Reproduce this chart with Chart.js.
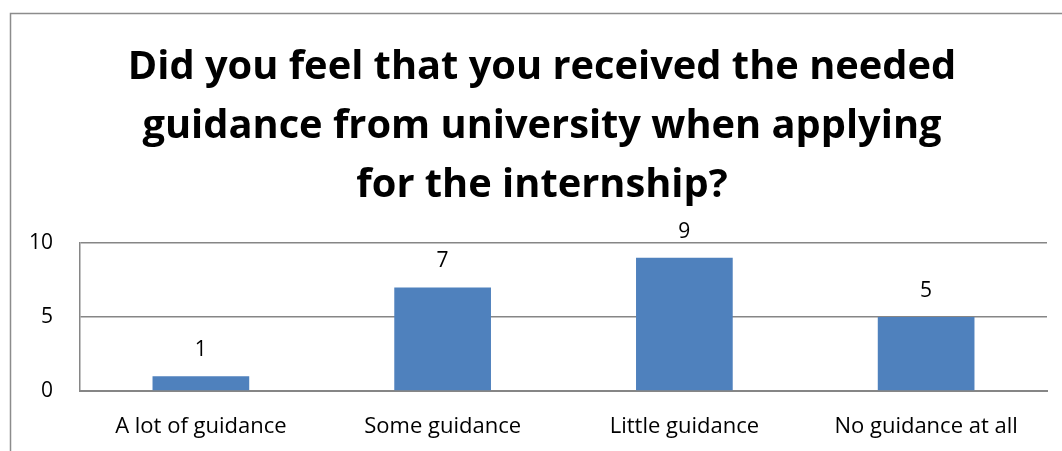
<!DOCTYPE html>
<html>
<head>
<meta charset="utf-8">
<script src="https://cdn.jsdelivr.net/npm/chart.js@4"></script>
<style>
  html, body { margin: 0; padding: 0; background: #ffffff; }
  #wrap { width: 1062px; height: 451px; position: relative; }
</style>
</head>
<body>
<div id="wrap"><canvas id="chart" width="1062" height="451"></canvas></div>
<script>
// Survey bar chart: guidance from university when applying for internship

const categories = ['A lot of guidance', 'Some guidance', 'Little guidance', 'No guidance at all'];
const responses = [1, 7, 9, 5];
const yTicks = [0, 5, 10];
const titleLines = [
    'Did you feel that you received the needed',
    'guidance from university when applying',
    'for the internship?'
];

const FONT = '"Open Sans", "Noto Sans", Arial, sans-serif';

// Plugin: outer frame, three-line bold title, value labels above bars.
const decorPlugin = {
    id: 'decor',
    beforeDraw(chart) {
        const { ctx } = chart;
        ctx.save();
        ctx.fillStyle = '#ffffff';
        ctx.fillRect(0, 0, chart.width, chart.height);
        ctx.strokeStyle = '#8c8c8c';
        ctx.lineWidth = 1.5;
        ctx.strokeRect(10.5, 13.5, chart.width + 20, chart.height + 20);
        ctx.restore();
    },
    afterDatasetsDraw(chart) {
        const { ctx } = chart;

        // title, sized so the first line spans about 829px
        ctx.save();
        ctx.fillStyle = '#000000';
        ctx.textAlign = 'center';
        ctx.textBaseline = 'alphabetic';
        ctx.font = 'bold 40px ' + FONT;
        const w = ctx.measureText(titleLines[0]).width;
        const size = Math.round(40 * 829 / w * 10) / 10;
        ctx.font = 'bold ' + size + 'px ' + FONT;
        const baselines = [79, 138, 197];
        titleLines.forEach((line, i) => ctx.fillText(line, 542, baselines[i]));
        ctx.restore();

        // value labels
        const meta = chart.getDatasetMeta(0);
        ctx.save();
        ctx.fillStyle = '#000000';
        ctx.font = '21px ' + FONT;
        ctx.textAlign = 'center';
        ctx.textBaseline = 'middle';
        meta.data.forEach((bar, i) => {
            ctx.fillText(String(responses[i]), bar.x, bar.y - 26);
        });
        ctx.restore();
    }
};

new Chart(document.getElementById('chart'), {
    type: 'bar',
    data: {
        labels: categories,
        datasets: [{
            data: responses,
            backgroundColor: '#4f81bd',
            borderColor: '#4f81bd',
            borderWidth: 0,
            categoryPercentage: 1.0,
            barPercentage: 0.4
        }]
    },
    options: {
        responsive: false,
        animation: false,
        devicePixelRatio: 1,
        layout: { padding: { top: 243, right: 15, bottom: 0, left: 0 } },
        plugins: {
            legend: { display: false },
            title: { display: false },
            tooltip: { enabled: false }
        },
        scales: {
            x: {
                grid: { display: false, drawTicks: false },
                border: { display: true, color: '#868686', width: 2 },
                ticks: { color: '#000000', font: { family: FONT, size: 22 }, padding: 23, maxRotation: 0 },
                afterFit(scale) { scale.height = 60; }
            },
            y: {
                min: 0, max: 10,
                afterBuildTicks(scale) { scale.ticks = yTicks.map(v => ({ value: v })); },
                grid: { color: '#868686', lineWidth: 1.5, drawTicks: false },
                border: { display: true, color: '#868686', width: 1.5 },
                ticks: { color: '#000000', font: { family: FONT, size: 21 }, padding: 27 },
                afterFit(scale) { scale.width = 80; }
            }
        }
    },
    plugins: [decorPlugin]
});
</script>
</body>
</html>
